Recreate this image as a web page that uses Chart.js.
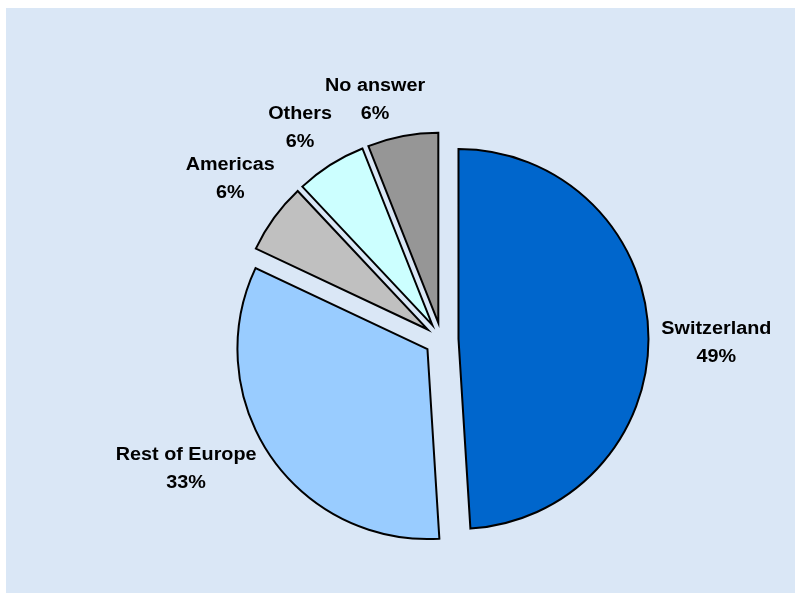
<!DOCTYPE html>
<html>
<head>
<meta charset="utf-8">
<script src="https://cdn.jsdelivr.net/npm/chart.js@4/dist/chart.umd.min.js"></script>
<style>
  html, body { margin: 0; padding: 0; background: #fff; }
  #wrap { position: relative; width: 795px; height: 593px; }
</style>
</head>
<body>
<div id="wrap"><canvas id="chart"></canvas></div>
<script>
const regions = ['Switzerland', 'Rest of Europe', 'Americas', 'Others', 'No answer'];
const shares = [49, 33, 6, 6, 6];
const sliceColors = ['#0066cc', '#99ccff', '#c0c0c0', '#ccffff', '#969696'];

// hand nudges for the outside labels (px), applied after radial placement
const labelNudge = [[1, 9], [-16, -7], [2, -22], [-7, -12], [-16, -7]];
const labelFont = 'bold 18px "Liberation Sans", Arial, sans-serif';
const textStretch = 1.1;

// pie slice that is pushed out along its middle angle, drawn as a plain wedge
class ExplodedArc extends Chart.ArcElement {
    static id = 'explodedArc';

    draw(ctx) {
        const { x, y, startAngle, endAngle, outerRadius, options } = this;
        const mid = (startAngle + endAngle) / 2;
        const cx = x + Math.cos(mid) * (options.offset || 0);
        const cy = y + Math.sin(mid) * (options.offset || 0);
        ctx.save();
        ctx.beginPath();
        ctx.moveTo(cx, cy);
        ctx.arc(cx, cy, outerRadius, startAngle, endAngle);
        ctx.closePath();
        ctx.fillStyle = options.backgroundColor;
        ctx.fill();
        ctx.lineWidth = options.borderWidth;
        ctx.strokeStyle = options.borderColor;
        ctx.lineJoin = 'miter';
        ctx.stroke();
        ctx.restore();
    }
}

class ExplodedPie extends Chart.PieController {
    static id = 'explodedPie';
    static defaults = { dataElementType: 'explodedArc' };
}

Chart.register(ExplodedArc, ExplodedPie);

const paperBackground = {
    id: 'paperBackground',
    beforeDraw(chart) {
        const { ctx, width, height } = chart;
        ctx.save();
        ctx.fillStyle = '#ffffff';
        ctx.fillRect(0, 0, width, height);
        ctx.fillStyle = '#dae7f6';
        ctx.fillRect(6, 8, width - 6, height - 8);
        ctx.restore();
    }
};

// two-line labels (name + percent) outside each slice
const outsideLabels = {
    id: 'outsideLabels',
    afterDatasetsDraw(chart) {
        const ctx = chart.ctx;
        const arcs = chart.getDatasetMeta(0).data;
        ctx.save();
        ctx.font = labelFont;
        ctx.fillStyle = '#000';
        ctx.textAlign = 'center';
        ctx.textBaseline = 'alphabetic';
        arcs.forEach((arc, i) => {
            const mid = (arc.startAngle + arc.endAngle) / 2;
            const dx = Math.cos(mid);
            const dy = Math.sin(mid);
            const lines = [regions[i], shares[i] + '%'];
            const w = Math.max(...lines.map(t => ctx.measureText(t).width)) * textStretch;
            const h = 40;
            const r = arc.outerRadius + (arc.options.offset || 0) + 12;
            const lx = arc.x + dx * r + dx * w / 2 + labelNudge[i][0];
            const ly = arc.y + dy * r + dy * h / 2 + labelNudge[i][1];
            lines.forEach((text, k) => {
                ctx.save();
                ctx.translate(lx, ly - 7 + k * 28);
                ctx.scale(textStretch, 1);
                ctx.fillText(text, 0, 0);
                ctx.restore();
            });
        });
        ctx.restore();
    }
};

new Chart(document.getElementById('chart'), {
    type: 'explodedPie',
    data: {
        labels: regions,
        datasets: [{
            data: shares,
            backgroundColor: sliceColors,
            borderColor: '#000',
            borderWidth: 2,
            offset: 17,
            hoverOffset: 0
        }]
    },
    options: {
        responsive: true,
        maintainAspectRatio: false,
        animation: false,
        events: [],
        layout: { padding: { left: 242, right: 154, top: 140, bottom: 54 } },
        plugins: {
            legend: { display: false },
            tooltip: { enabled: false }
        }
    },
    plugins: [paperBackground, outsideLabels]
});
</script>
</body>
</html>
